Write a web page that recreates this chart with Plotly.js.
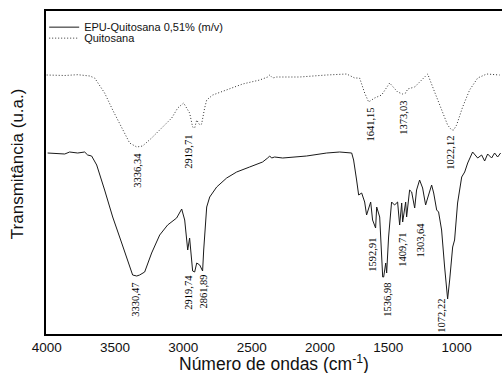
<!DOCTYPE html>
<html>
<head>
<meta charset="utf-8">
<script src="https://cdn.plot.ly/plotly-3.0.1.min.js"></script>
<style>html,body{margin:0;padding:0;background:#fff;overflow:hidden}#chart{width:502px;height:373px}</style>
</head>
<body>
<div id="chart"></div>
<script>
// Wavenumber (cm-1) and transmittance (a.u.)
const quitosanaX = [4000,3868,3773,3685,3649,3576,3517,3451,3393,3341,3298,3232,3159,3085,3041,2998,2954,2932,2917,2902,2880,2866,2844,2829,2785,2683,2566,2441,2383,2368,2346,2317,2149,1951,1805,1746,1710,1673,1644,1600,1549,1490,1432,1395,1373,1358,1307,1256,1212,1161,1110,1066,1037,1022,1000,956,905,846,780,685];
const quitosanaY = [259,258.5,259.3,258,256,241,224,206,191,187,188,196,206,216,226,231,221,207,206,214,209,210,226,234,239,244,250,254,257,259,256,257,257,259,260,256,256,241,232,236,239,251,242,240,241,245,247,254,260,242,224,209,204,204,209,227,244,256,260,259];

const epuX = [3993,3920,3868,3832,3773,3722,3700,3671,3634,3576,3517,3451,3407,3371,3341,3320,3283,3232,3173,3115,3049,3012,2990,2968,2954,2932,2917,2902,2880,2859,2851,2829,2807,2756,2683,2610,2515,2420,2383,2368,2354,2332,2273,2098,1951,1856,1768,1754,1732,1717,1695,1673,1659,1629,1615,1593,1585,1563,1541,1534,1519,1512,1498,1476,1454,1432,1417,1402,1395,1373,1366,1344,1329,1307,1293,1271,1249,1227,1212,1183,1168,1146,1132,1110,1088,1073,1066,1051,1029,1015,993,963,941,919,883,846,817,795,773,744,722,700,678];
const epuY = [181,180,180,182,181,182,179,178,169,144,117,91,74,59,58,59,62,81,99,109,116,125,114,84,96,63,62,71,69,63,84,127,137,147,156,162,167,172,176,178,176,177,176,178,181,182,181,174,154,139,141,132,119,132,114,106,127,117,57,57,71,61,97,132,129,132,109,131,112,132,117,144,142,126,144,154,146,129,136,149,141,124,122,104,67,41,35,54,87,94,131,157,162,171,182,176,179,173,180,176,181,177,181];

const seriesNames = ['EPU-Quitosana 0,51% (m/v)', 'Quitosana'];
const tickVals = [4000,3500,3000,2500,2000,1500,1000];

// Peak labels: text, label x (cm-1), label y (a.u.)
const peakText = ['3336,34','2919,71','1641,15','1373,03','1022,12','3330,47','2919,74','2861,89','1592,91','1536,98','1409,71','1303,64','1072,22'];
const peakX    = [3341,2968,1637,1395,1051,3356,2968,2859,1622,1512,1402,1271,1117];
const peakY    = [164,182,209,216,181,34,42,42,79,34,84,94,18];

const traces = [
  {x: epuX, y: epuY, type:'scatter', mode:'lines', name: seriesNames[0],
   line:{color:'#1a1a1a', width:1}, legend:'legend'},
  {x: quitosanaX, y: quitosanaY, type:'scatter', mode:'lines', name: seriesNames[1],
   line:{color:'#333', width:1, dash:'1px,2px'}, legend:'legend2'}
];

const annotations = peakText.map((t,i)=>({
  x: peakX[i], y: peakY[i], xref:'x', yref:'y', text: t, showarrow:false,
  textangle:-90, font:{family:'Liberation Serif, Times New Roman, serif', size:10.5, color:'#000'},
  xanchor:'center', yanchor:'middle'
}));
annotations.push({
  x:-0.0636, y:0.529, xref:'paper', yref:'paper', text:'Transmitância (u.a.)', showarrow:false,
  textangle:-90, font:{family:'Liberation Sans, Arial, sans-serif', size:17, color:'#111'},
  xanchor:'center', yanchor:'middle'
});
annotations.push({
  x:0.5, y:-0.089, xref:'paper', yref:'paper', text:'Número de ondas (cm<sup>-1</sup>)', showarrow:false,
  font:{family:'Liberation Sans, Arial, sans-serif', size:17.5, color:'#111'},
  xanchor:'center', yanchor:'middle'
});

const legendStyle = {
  xanchor:'left', yanchor:'middle', bgcolor:'rgba(0,0,0,0)', borderwidth:0,
  font:{family:'Liberation Sans, Arial, sans-serif', size:11, color:'#111'},
  itemwidth:30, tracegroupgap:0
};

const layout = {
  width:502, height:373,
  margin:{l:46, r:0, t:11, b:39},
  paper_bgcolor:'#fff', plot_bgcolor:'#fff',
  showlegend:true,
  legend: Object.assign({x:-0.004, y:0.950}, legendStyle),
  legend2: Object.assign({x:-0.004, y:0.916}, legendStyle),
  xaxis:{
    range:[4005,668], tickvals:tickVals, ticktext:tickVals.map(String),
    showgrid:false, zeroline:false, ticks:'', showline:true, linewidth:2, linecolor:'#000', mirror:true,
    tickfont:{family:'Liberation Sans, Arial, sans-serif', size:13.5, color:'#111'}
  },
  yaxis:{
    range:[0,323], showgrid:false, zeroline:false, ticks:'', showticklabels:false,
    showline:true, linewidth:2, linecolor:'#000', mirror:false
  },
  annotations: annotations
};

Plotly.newPlot('chart', traces, layout, {displayModeBar:false, staticPlot:true});
</script>
</body>
</html>
